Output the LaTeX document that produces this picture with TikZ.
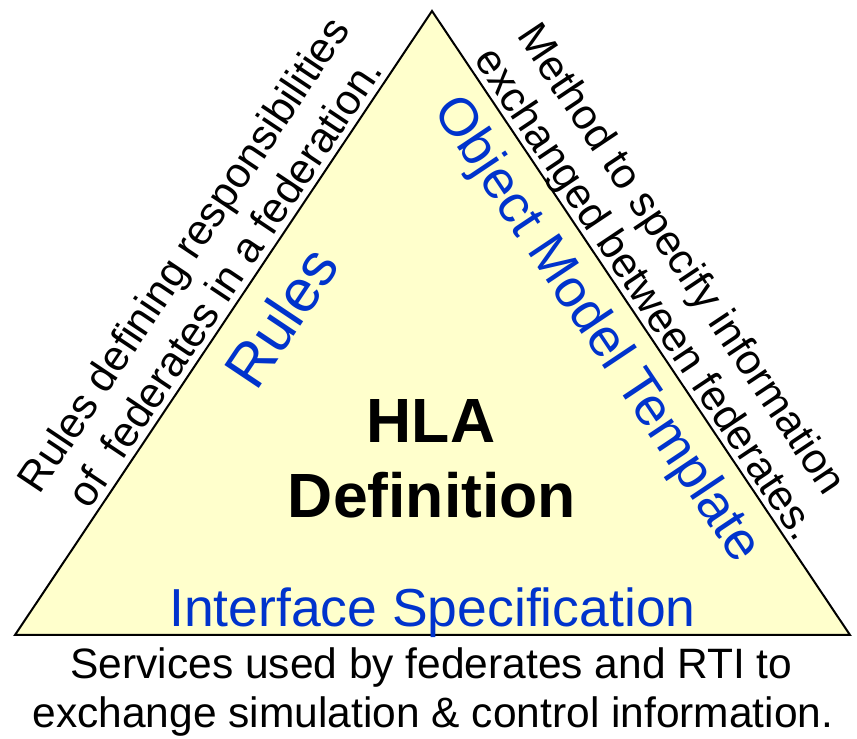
\documentclass[tikz,border=0pt]{standalone}
\usepackage{fontspec}
\setmainfont{Liberation Sans}
\definecolor{trifill}{HTML}{FFFFCC}
\definecolor{bluetxt}{HTML}{0033CC}
\begin{document}
\begin{tikzpicture}[x=1pt,y=1pt,
  side/.style={inner sep=0pt, anchor=base, font=\fontsize{42.5}{51}\selectfont},
  part/.style={inner sep=0pt, anchor=base, text=bluetxt, font=\fontsize{53.5}{60}\selectfont},
  title/.style={inner sep=0pt, anchor=base, font=\fontsize{62.5}{74}\selectfont\bfseries},
  tri/.style={draw=black, line width=2pt, fill=trifill, line join=miter}]
\useasboundingbox (0,0) rectangle (857,739);
\coordinate (A) at (432,728);
\coordinate (B) at (15,104);
\coordinate (C) at (850,104);
\draw[tri] (A) -- (B) -- (C) -- cycle;
% left edge texts
\begin{scope}[shift={(B)}, rotate=56.25]
  \node[side, rotate=56.25] (left2) at (410,7) {of\ \ federates in a federation.};
  \node[side, rotate=56.25] (left1) at (410,57) {Rules defining responsibilities};
  \node[part, rotate=56.25, font=\fontsize{60}{70}\selectfont] (rules) at (412,-66) {Rules};
\end{scope}
% right edge texts
\begin{scope}[shift={(A)}, rotate=-56.25]
  \node[side, rotate=-56.25] (right2) at (354,7) {exchanged between federates.};
  \node[side, rotate=-56.25] (right1) at (345,56) {Method to specify information};
  \node[part, rotate=-56.25] (omt) at (356,-55) {Object Model Template};
\end{scope}
\node[part] (isp) at (432.5,112) {Interface Specification};
\node[title] (hla) at (431,296) {HLA};
\node[title] (def) at (432,221) {Definition};
\node[side] (bot1) at (431.5,60) {Services used by federates and RTI to};
\node[side] (bot2) at (433,11) {exchange simulation \& control information.};
\end{tikzpicture}
\end{document}
